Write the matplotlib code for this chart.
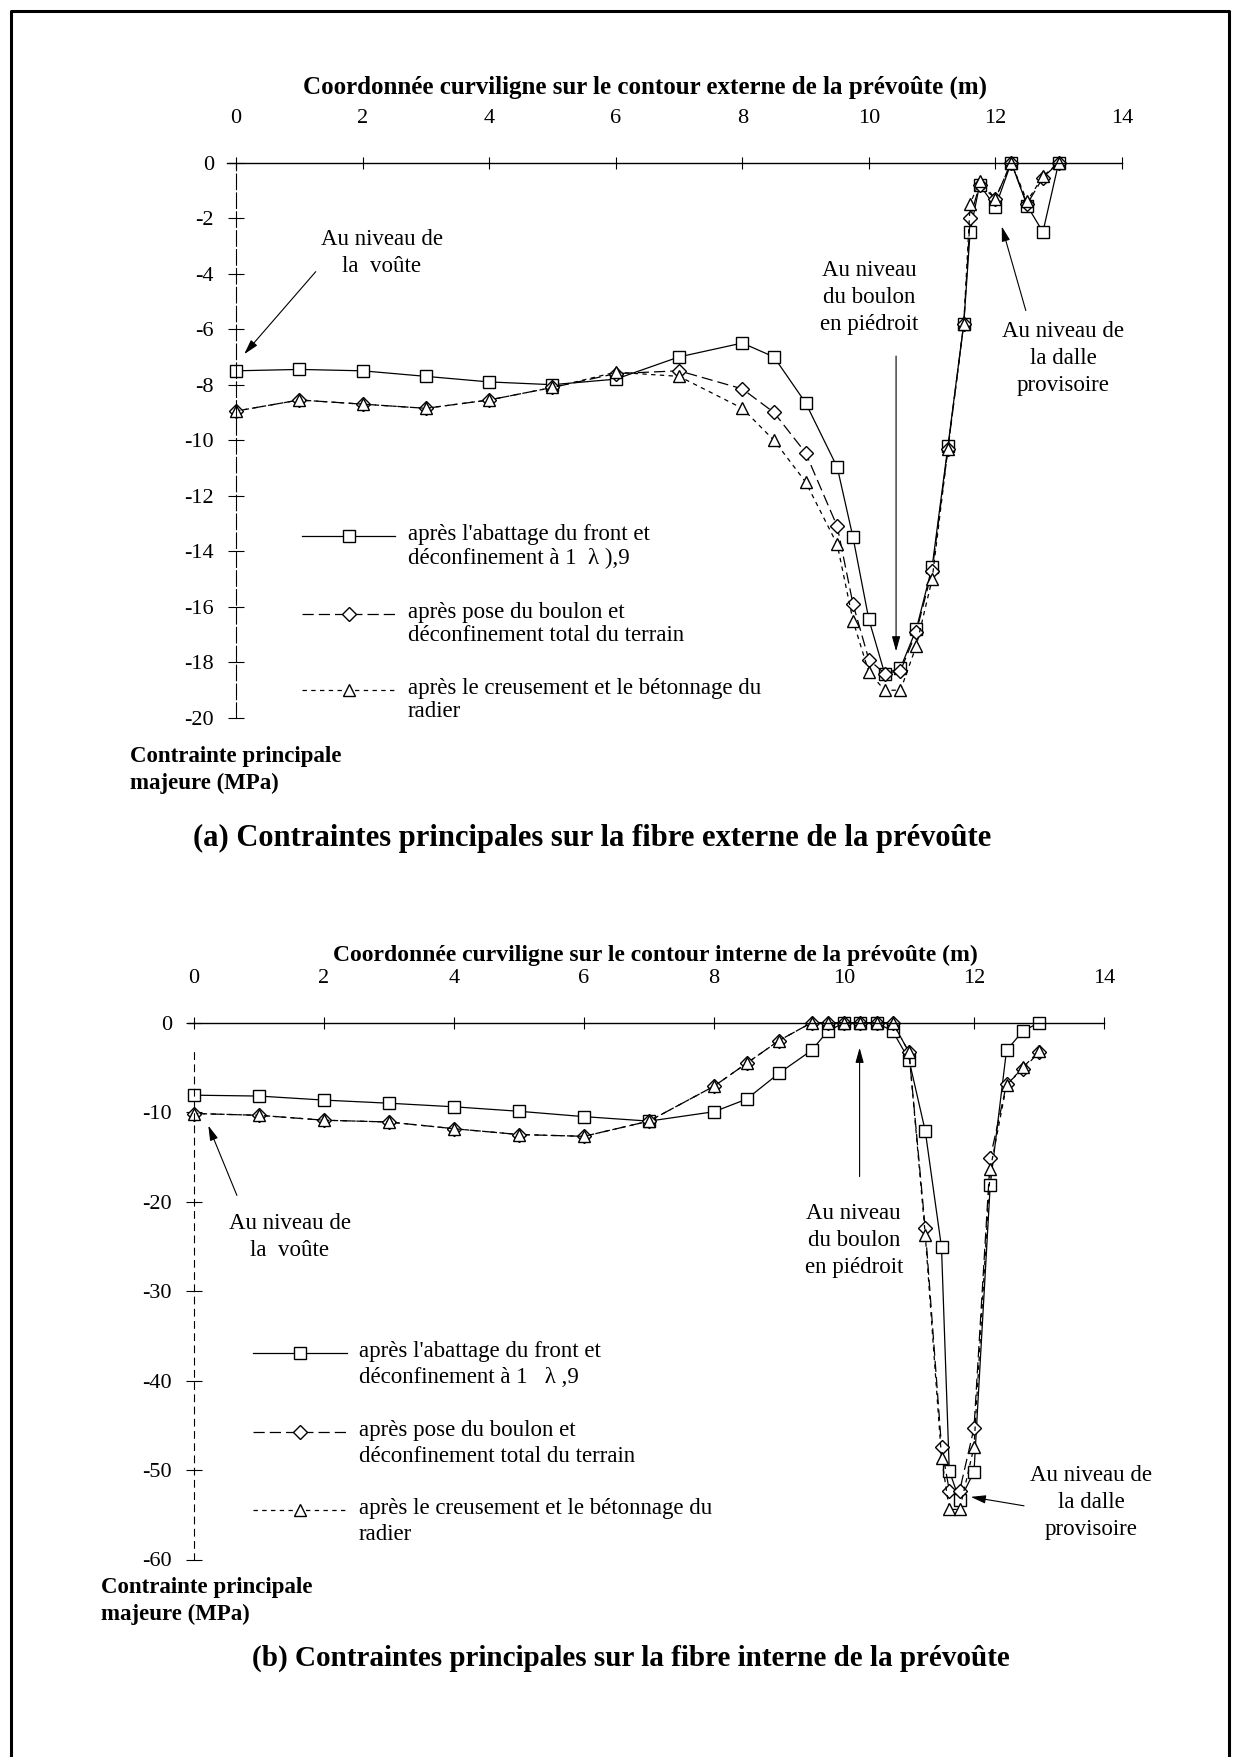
import matplotlib
matplotlib.use("Agg")
import matplotlib.pyplot as plt
from matplotlib.lines import Line2D

plt.rcParams['font.family'] = ['Liberation Serif', 'DejaVu Serif']
plt.rcParams['axes.unicode_minus'] = False

# ---- data : (a) fibre externe ----
x_ext = [0, 1, 2, 3, 4, 5, 6, 7, 8, 8.5, 9, 9.5, 9.75, 10, 10.25, 10.5, 10.75,
         11, 11.25, 11.5, 11.6, 11.75, 12, 12.25, 12.5, 12.75, 13]
abattage_ext = [-7.5, -7.45, -7.5, -7.7, -7.9, -8.0, -7.8, -7.0, -6.5, -7.0, -8.65,
                -10.97, -13.5, -16.45, -18.4, -18.2, -16.8, -14.55, -10.2, -5.8,
                -2.5, -0.8, -1.6, 0, -1.55, -2.5, 0]
boulon_ext = [-8.95, -8.55, -8.7, -8.85, -8.55, -8.1, -7.6, -7.5, -8.15, -9.0, -10.45,
              -13.1, -15.9, -17.9, -18.4, -18.3, -16.9, -14.7, -10.3, -5.8,
              -2.0, -0.8, -1.3, 0, -1.5, -0.55, 0]
radier_ext = [-8.95, -8.55, -8.7, -8.85, -8.55, -8.1, -7.55, -7.7, -8.85, -10.0, -11.5,
              -13.75, -16.5, -18.35, -19.0, -19.0, -17.4, -15.0, -10.3, -5.8,
              -1.5, -0.65, -1.3, 0, -1.4, -0.5, 0]

# ---- data : (b) fibre interne ----
x_int = [0, 1, 2, 3, 4, 5, 6, 7, 8, 8.5, 9, 9.5, 9.75, 10, 10.25, 10.5, 10.75,
         11, 11.25, 11.5, 11.62, 11.78, 12, 12.25, 12.5, 12.75, 13]
abattage_int = [-8.1, -8.2, -8.65, -9.0, -9.4, -9.9, -10.5, -11.0, -9.95, -8.55, -5.65,
                -3.1, -0.95, 0, 0, 0, -0.95, -4.15, -12.1, -25.1, -50.1, -53.4,
                -50.2, -18.1, -3.1, -0.95, 0]
boulon_int = [-10.15, -10.35, -10.9, -11.1, -11.85, -12.5, -12.7, -11.0, -7.1, -4.55,
              -2.0, 0, 0, 0, 0, 0, 0, -3.3, -23.0, -47.4, -52.3, -52.3, -45.3, -15.1,
              -6.9, -5.2, -3.3]
radier_int = [-10.15, -10.35, -10.9, -11.1, -11.85, -12.5, -12.7, -11.0, -7.1, -4.55,
              -2.0, 0, 0, 0, 0, 0, 0, -3.3, -23.7, -48.6, -54.4, -54.4, -47.4, -16.4,
              -7.0, -5.0, -3.2]

labels_a = ["après l'abattage du front et\ndéconfinement à 1  λ ),9",
            "après pose du boulon et\ndéconfinement total du terrain",
            "après le creusement et le bétonnage du\nradier"]
labels_b = ["après l'abattage du front et\ndéconfinement à 1   λ ,9",
            labels_a[1], labels_a[2]]

W, H = 1237, 1757
fig = plt.figure(figsize=(W / 100, H / 100), dpi=100)


def fx(p):
    return p / W


def fy(p):
    return 1 - p / H


styles = [dict(ls='-', marker='s'),
          dict(ls=(0, (9, 4)), marker='D'),
          dict(ls=(0, (3.5, 3.5)), marker='^')]
msizes = [8.5, 7, 8.5]


def make_axes(x_lo, x_hi, y_top, y_bot, xlim, ylim):
    ax = fig.add_axes([fx(x_lo), fy(y_bot), fx(x_hi - x_lo), (y_bot - y_top) / H])
    ax.set_xlim(*xlim)
    ax.set_ylim(*ylim)
    ax.patch.set_visible(False)
    ax.spines['right'].set_visible(False)
    ax.spines['bottom'].set_visible(False)
    ax.spines['left'].set_position(('data', 0))
    ax.spines['top'].set_linewidth(1.0)
    ax.spines['left'].set_linewidth(0.8)
    ax.xaxis.tick_top()
    ax.set_xticks(range(0, 15, 2))
    ax.tick_params(axis='x', direction='inout', length=8, width=0.8, pad=21, labelsize=16)
    ax.tick_params(axis='y', direction='inout', length=12, width=0.8, pad=10, labelsize=16)
    return ax


def draw_series(ax, x, series):
    for ys, st, ms in zip(series, styles, msizes):
        ax.plot(x, ys, color='black', lw=0.9, ls=st['ls'], marker=st['marker'],
                ms=ms, mfc='white', mec='black', mew=1.0, clip_on=False)


def draw_legend(x0, x1, rows, texts, tx, size, ls):
    for (y, st, ms, txt) in zip(rows, styles, msizes, texts):
        xm = (x0 + x1) / 2
        fig.add_artist(Line2D([fx(x0), fx(xm), fx(x1)], [fy(y)] * 3, color='black', lw=0.9,
                              ls=st['ls'], marker=st['marker'], ms=ms, mfc='white',
                              mec='black', mew=1.0, markevery=[1]))
        fig.text(fx(tx), fy(y - 12), txt, fontsize=size, ha='left', va='top',
                 linespacing=ls)


arrow = dict(arrowstyle='-|>,head_length=0.9,head_width=0.25', color='black', lw=0.8,
             shrinkA=0, shrinkB=0)
ann = dict(ha='center', va='center', fontsize=16.5, linespacing=1.38)

# ---- (a) ----
ax1 = make_axes(236 - 0.14 * 63.29, 1122, 162.5, 718, (-0.14, 14), (-20, 0))
ax1.set_yticks(range(-20, 1, 2))
ax1.spines['left'].set_linestyle((0, (14, 3)))
draw_series(ax1, x_ext, [abattage_ext, boulon_ext, radier_ext])
ax1.text(2.3, -3.25, "Au niveau de\nla  voûte", **ann)
ax1.annotate('', xy=(0.13, -6.9), xytext=(1.26, -3.93), arrowprops=arrow)
ax1.text(10.0, -4.85, "Au niveau\ndu boulon\nen piédroit", **ann)
ax1.annotate('', xy=(10.43, -17.6), xytext=(10.43, -6.97), arrowprops=arrow)
ax1.text(13.07, -7.05, "Au niveau de\nla dalle\nprovisoire", **ann)
ax1.annotate('', xy=(12.1, -2.3), xytext=(12.48, -5.33), arrowprops=arrow)

fig.text(fx(645), fy(87), "Coordonnée curviligne sur le contour externe de la prévoûte (m)",
         ha='center', va='center', fontsize=18, fontweight='bold')
fig.text(fx(130), fy(770), "Contrainte principale\nmajeure (MPa)", ha='left', va='center',
         fontsize=16.5, fontweight='bold', linespacing=1.35)
fig.text(fx(592), fy(838), "(a) Contraintes principales sur la fibre externe de la prévoûte",
         ha='center', va='center', fontsize=22, fontweight='bold')
draw_legend(302, 395, [536, 614, 690], labels_a, 408, 16.5, 1.15)

# ---- (b) ----
ax2 = make_axes(194 - 0.09 * 65, 1104, 1022.7, 1559.5, (-0.09, 14), (-60, 0))
ax2.set_yticks(range(-60, 1, 10))
ax2.spines['left'].set_linestyle((0, (6, 5)))
ax2.spines['left'].set_bounds(-60, -2.7)
draw_series(ax2, x_int, [abattage_int, boulon_int, radier_int])
ax2.text(1.47, -24.0, "Au niveau de\nla  voûte", **ann)
ax2.annotate('', xy=(0.22, -11.5), xytext=(0.66, -19.3), arrowprops=arrow)
ax2.text(10.15, -24.35, "Au niveau\ndu boulon\nen piédroit", **ann)
ax2.annotate('', xy=(10.24, -2.8), xytext=(10.24, -17.2), arrowprops=arrow)
ax2.text(13.8, -53.6, "Au niveau de\nla dalle\nprovisoire", **ann)
ax2.annotate('', xy=(11.95, -53.0), xytext=(12.77, -54.0), arrowprops=arrow)

fig.text(fx(655), fy(955), "Coordonnée curviligne sur le contour interne de la prévoûte (m)",
         ha='center', va='center', fontsize=17, fontweight='bold')
fig.text(fx(101), fy(1601), "Contrainte principale\nmajeure (MPa)", ha='left', va='center',
         fontsize=16.5, fontweight='bold', linespacing=1.35)
fig.text(fx(631), fy(1658), "(b) Contraintes principales sur la fibre interne de la prévoûte",
         ha='center', va='center', fontsize=21, fontweight='bold')
draw_legend(253, 347, [1353, 1432, 1510], labels_b, 359, 16.5, 1.33)

# page frame
fig.add_artist(Line2D([fx(11), fx(11), fx(1229), fx(1229)], [0, fy(11), fy(11), 0],
                      color='black', lw=2.2))

fig.savefig('out.png', dpi=100)
